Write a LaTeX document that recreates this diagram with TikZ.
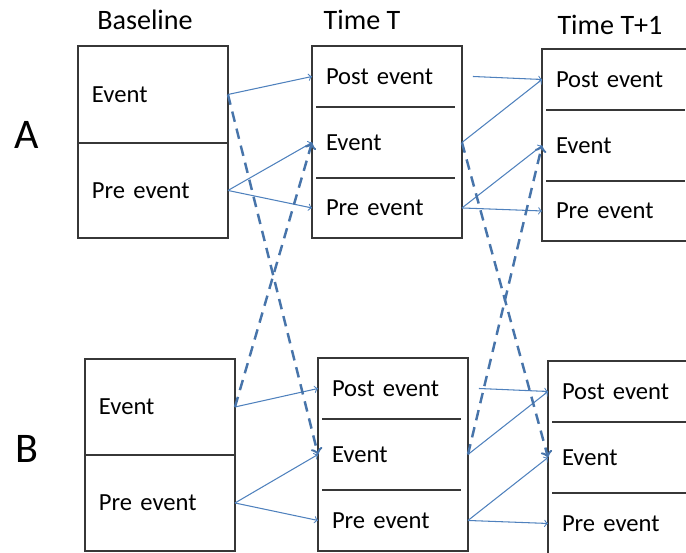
\documentclass[tikz,border=0pt]{standalone}
\usepackage{fontspec}
\setmainfont{Carlito}
\usepackage{xcolor}
\usepackage{tikz}
\usetikzlibrary{positioning}
\definecolor{linkblue}{RGB}{79,129,189}
\definecolor{boxgray}{RGB}{55,55,55}

\begin{document}
\begin{tikzpicture}[x=0.02cm,y=-0.02cm,
cell/.style={minimum width=3cm,text width=2.44cm,inner xsep=0.28cm,inner ysep=0pt,outer sep=0pt,align=left,font=\fontsize{14}{16}\selectfont},
head/.style={font=\fontsize{16}{18}\selectfont},
panel/.style={font=\fontsize{24}{26}\selectfont},
box/.style={color=boxgray,line width=0.8pt},
link/.style={->,color=linkblue,line width=0.6pt},
cross/.style={->,color=linkblue!90!black,line width=1.4pt,dash pattern=on 6pt off 4pt}]
\useasboundingbox (0,0) rectangle (686,553);
\clip (0,0) rectangle (686,553);

\node[head] (base) at (145,20) {Baseline};
\node[head] (timet) at (362,20) {Time T};
\node[head] (timeu) at (610,25) {Time T+1};
\node[panel] (pa) at (27,135) {A};
\node[panel] (pb) at (27,449) {B};

\node[cell,draw,box,text=black,minimum height=1.94cm,anchor=north west] (aB1) at (78,46) {Event};
\node[cell,draw,box,text=black,minimum height=1.9cm,below=0pt of aB1] (aB2) {Pre event};
\node[cell,draw,box,text=black,minimum height=1.92cm,anchor=north west] (bB1) at (85,359) {Event};
\node[cell,draw,box,text=black,minimum height=1.92cm,below=0pt of bB1] (bB2) {Pre event};

\node[cell,minimum height=1.22cm,anchor=north west] (aT1) at (312,46) {Post event};
\node[cell,minimum height=1.42cm,below=0pt of aT1] (aT2) {Event};
\node[cell,minimum height=1.2cm,below=0pt of aT2] (aT3) {Pre event};
\node[cell,minimum height=1.22cm,anchor=north west] (aU1) at (542,49) {Post event};
\node[cell,minimum height=1.42cm,below=0pt of aU1] (aU2) {Event};
\node[cell,minimum height=1.2cm,below=0pt of aU2] (aU3) {Pre event};

\node[cell,minimum height=1.22cm,anchor=north west] (bT1) at (318,358) {Post event};
\node[cell,minimum height=1.42cm,below=0pt of bT1] (bT2) {Event};
\node[cell,minimum height=1.22cm,below=0pt of bT2] (bT3) {Pre event};
\node[cell,minimum height=1.22cm,anchor=north west] (bU1) at (548,361) {Post event};
\node[cell,minimum height=1.42cm,below=0pt of bU1] (bU2) {Event};
\node[cell,minimum height=1.22cm,below=0pt of bU2] (bU3) {Pre event};

\foreach \n in {aT,aU,bT,bU} {
\draw[box] (\n1.north west) rectangle (\n3.south east);
\draw[box] ([xshift=0.08cm]\n1.south west)--([xshift=-0.14cm]\n1.south east);
\draw[box] ([xshift=0.08cm]\n2.south west)--([xshift=-0.14cm]\n2.south east);
}

\foreach \row in {a,b} {
\draw[link] (\row B1.east)--(\row T1.west);
\draw[link] (\row B2.east)--(\row T2.west);
\draw[link] (\row B2.east)--(\row T3.west);
\draw[link] ([xshift=0.22cm]\row T1.east)--(\row U1.west);
\draw[link] (\row T2.east)--(\row U1.west);
\draw[link] (\row T3.east)--(\row U2.west);
\draw[link] (\row T3.east)--(\row U3.west);
}

\draw[cross] (aB1.east)--(bT2.west);
\draw[cross] (bB1.east)--(aT2.west);
\draw[cross] (aT2.east)--(bU2.west);
\draw[cross] (bT2.east)--(aU2.west);

\end{tikzpicture}
\end{document}
